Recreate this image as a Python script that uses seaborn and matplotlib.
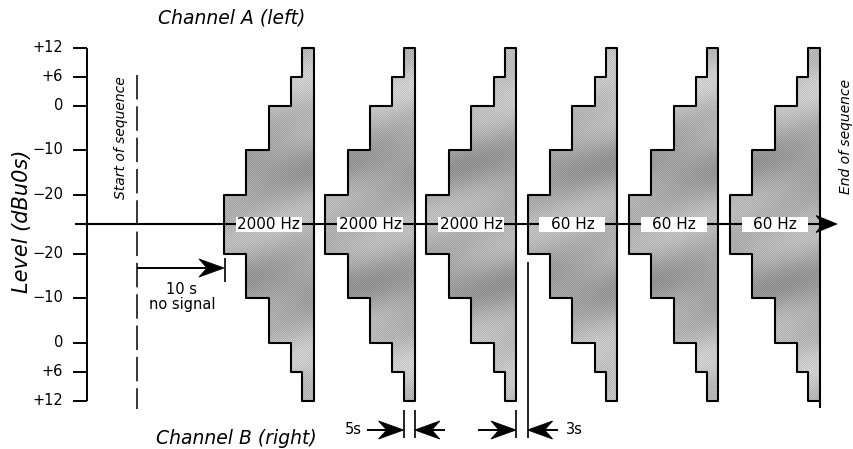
import numpy as np
import pandas as pd
import matplotlib
matplotlib.use("Agg")
import matplotlib.pyplot as plt
import seaborn as sns
from matplotlib.patches import Polygon, Rectangle

# stepped test tone: level of each step (dBu0s) and its length (s)
LEVELS = [-20, -10, 0, 6, 12]
STEP_SECONDS = [2, 2, 2, 1, 1]
FREQ_LABELS = ["2000 Hz", "2000 Hz", "2000 Hz", "60 Hz", "60 Hz", "60 Hz"]
TICK_LEVELS = [12, 6, 0, -10, -20]
TICK_LABELS = ["+12", "+6", "0", "\u221210", "\u221220"]

# layout of the drawing (canvas in pixels)
W, H = 854, 449
AXIS_Y = 224
AXIS_X = 87
START_X = 137
FIRST_BLOCK_X = 224
PX_PER_S = 11.2
BLOCK_PERIOD = 101.2


def level_offset(level):
    # the level scale is not linear in the drawing, this follows its ticks
    return np.interp(level, [-20, 0, 12], [29.5, 118.5, 176.5])


def block_edges(i):
    x0 = FIRST_BLOCK_X + i * BLOCK_PERIOD
    return x0 + np.concatenate([[0], np.cumsum(STEP_SECONDS)]) * PX_PER_S


def block_outline(i):
    edges = block_edges(i)
    top = AXIS_Y - level_offset(np.array(LEVELS))
    bot = AXIS_Y + level_offset(np.array(LEVELS))
    xs, ys = [edges[0]], [AXIS_Y]
    for k in range(len(LEVELS)):
        xs += [edges[k], edges[k + 1]]
        ys += [top[k], top[k]]
    xs.append(edges[-1])
    ys.append(bot[-1])
    for k in reversed(range(len(LEVELS))):
        xs += [edges[k + 1], edges[k]]
        ys += [bot[k], bot[k]]
    xs.append(edges[0])
    ys.append(AXIS_Y)
    return xs, ys


def arrow_head(ax, tip_x, y, direction, length=25, width=18):
    d = direction
    pts = [(tip_x, y), (tip_x - d * length, y - width / 2),
           (tip_x - d * 0.68 * length, y), (tip_x - d * length, y + width / 2)]
    ax.add_patch(Polygon(pts, closed=True, facecolor="black", edgecolor="black",
                         lw=0.6, zorder=6))


def hline(ax, x0, x1, y, lw=1.3, z=3):
    ax.plot([x0, x1], [y, y], color="black", lw=lw, zorder=z, solid_capstyle="butt")


def vline(ax, x, y0, y1, lw=1.3, z=3):
    ax.plot([x, x], [y0, y1], color="black", lw=lw, zorder=z, solid_capstyle="butt")


sns.set_theme(style="white")
plt.rcParams["font.family"] = ["DejaVu Sans"]
plt.rcParams["text.color"] = "black"

fig = plt.figure(figsize=(W / 100, H / 100), dpi=100)
ax = fig.add_axes([0, 0, 1, 1])

# grey mottled fill of the blocks
yy, xx = np.mgrid[0:H, 0:W]
dist = np.abs(yy - AXIS_Y)
tex = (0.76 - 0.12 * np.exp(-((dist - 60) / 30.0) ** 2)
       + 0.06 * np.exp(-((dist - 140) / 25.0) ** 2)
       + 0.03 * np.sin((xx * 0.5 + yy) / 11.0)
       - 0.08 * ((xx + yy) % 2))

rows = []
for i in range(len(FREQ_LABELS)):
    xs, ys = block_outline(i)
    im = ax.imshow(tex, cmap="gray", vmin=0, vmax=1, extent=(0, W, H, 0),
                   aspect="auto", interpolation="nearest", zorder=1)
    clip = Polygon(list(zip(xs, ys)), closed=True, transform=ax.transData)
    im.set_clip_path(clip)
    for n, (x, y) in enumerate(zip(xs, ys)):
        rows.append({"block": i, "n": n, "x": x, "y": y})
outline = pd.DataFrame(rows)

sns.lineplot(data=outline, x="x", y="y", units="block", estimator=None,
             sort=False, color="black", lw=1.5, ax=ax, zorder=3)

# time axis with arrow
hline(ax, AXIS_X - 12, 822, AXIS_Y, lw=1.5, z=2)
arrow_head(ax, 837, AXIS_Y, 1, length=21, width=17)

# level axis, mirrored for the two channels
top_y = AXIS_Y - level_offset(12)
bot_y = AXIS_Y + level_offset(12)
vline(ax, AXIS_X, top_y, bot_y, lw=1.4)
for lv, lab in zip(TICK_LEVELS, TICK_LABELS):
    for sign in (-1, 1):
        y = AXIS_Y + sign * level_offset(lv)
        hline(ax, AXIS_X - 14, AXIS_X, y, lw=1.4)
        ax.text(63, y, lab, ha="right", va="center", fontsize=10.5)

# start of sequence
ax.plot([START_X, START_X], [75, 409], color="black", lw=1.1,
        linestyle=(0, (16, 4.5)), zorder=3)
ax.text(121, 138, "Start of sequence", rotation=90, ha="center", va="center",
        fontsize=10, style="italic")
ax.text(846, 136, "End of sequence", rotation=90, ha="center", va="center",
        fontsize=10, style="italic")

# frequency labels in white boxes
for i, lab in enumerate(FREQ_LABELS):
    edges = block_edges(i)
    cx = (edges[0] + edges[-1]) / 2
    ax.add_patch(Rectangle((cx - 33, AXIS_Y - 7.5), 66, 15, facecolor="white",
                           edgecolor="none", zorder=4))
    ax.text(cx, AXIS_Y + 0.5, lab, ha="center", va="center", fontsize=11, zorder=5)

# 10 s of silence before the first block
first = block_edges(0)
hline(ax, START_X, first[0] - 18, 268, lw=1.4)
arrow_head(ax, first[0], 268, 1)
vline(ax, first[0] + 1, 258, 282, lw=1.2)
ax.text(182, 289, "10 s", ha="center", va="center", fontsize=10.5)
ax.text(182, 305, "no signal", ha="center", va="center", fontsize=10.5)

# 5s marker under the last step of block 2
b2 = block_edges(1)
dim_y = 430
vline(ax, b2[4], 410, 438, lw=1.2)
vline(ax, b2[5], 410, 438, lw=1.2)
hline(ax, 367, b2[4] - 15, dim_y, lw=1.4)
arrow_head(ax, b2[4], dim_y, 1)
hline(ax, b2[5] + 15, 445, dim_y, lw=1.4)
arrow_head(ax, b2[5], dim_y, -1)
ax.text(362, dim_y, "5s", ha="right", va="center", fontsize=10.5)

# 3s pause between block 3 and block 4
b3 = block_edges(2)
b4 = block_edges(3)
vline(ax, b3[5], 410, 438, lw=1.2)
vline(ax, b4[0], 262, 438, lw=1.2)
hline(ax, 478, b3[5] - 15, dim_y, lw=1.4)
arrow_head(ax, b3[5], dim_y, 1)
hline(ax, b4[0] + 15, 558, dim_y, lw=1.4)
arrow_head(ax, b4[0], dim_y, -1)
ax.text(566, dim_y, "3s", ha="left", va="center", fontsize=10.5)

# end of the sequence
b6 = block_edges(5)
vline(ax, b6[5], bot_y, 408, lw=1.5)

# titles
ax.text(232, 18, "Channel A (left)", ha="center", va="center", fontsize=13.5, style="italic")
ax.text(236, 438, "Channel B (right)", ha="center", va="center", fontsize=13.5, style="italic")
ax.text(22, 221, "Level (dBu0s)", rotation=90, ha="center", va="center",
        fontsize=15, style="italic")

ax.set_xlim(0, W)
ax.set_ylim(H, 0)
ax.axis("off")
fig.savefig("out.png", dpi=100)
